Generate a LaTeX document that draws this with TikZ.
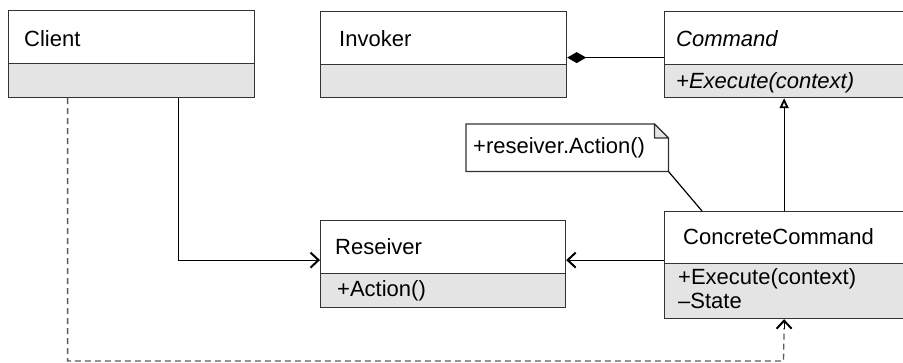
\documentclass[tikz,border=0pt]{standalone}
\usepackage{fontspec}
\setmainfont{Liberation Sans}
\usetikzlibrary{arrows.meta,calc}
\definecolor{edge}{HTML}{333333}
\definecolor{comp}{HTML}{E4E4E4}
\definecolor{dash}{HTML}{5A5A5A}
\tikzset{
  box/.style={draw=edge,line width=1.2pt,fill=white,inner sep=0pt,anchor=north west},
  part/.style={draw=edge,line width=1.2pt,fill=comp,inner sep=0pt,anchor=south west},
  txt/.style={inner sep=0pt,anchor=base west,font=\fontsize{22}{24}\selectfont},
  conn/.style={draw=black,line width=1.2pt},
  openarr/.style={-{Straight Barb[length=8pt,width=15pt,line width=2pt]}},
  inherit/.style={-{Triangle[open,length=10pt,width=9pt,line width=1.8pt]}},
  compo/.style={-{Diamond[length=19pt,width=11pt,fill=black]}},
  dep/.style={draw=dash,line width=1.3pt,dash pattern=on 6pt off 4pt}
}
\begin{document}
\begin{tikzpicture}[x=1pt,y=-1pt]
\useasboundingbox (0,0) rectangle (903,362);
% Client
\node[box,minimum width=246pt,minimum height=87pt] (client) at (8,10) {};
\node[part,minimum width=246pt,minimum height=34pt] (clienta) at (client.south west) {};
\node[txt] (clientt) at (24,46) {Client};
% Invoker
\node[box,minimum width=246pt,minimum height=86pt] (inv) at (320,11) {};
\node[part,minimum width=246pt,minimum height=33pt] (inva) at (inv.south west) {};
\node[txt] (invt) at (339,46) {Invoker};
% Command
\node[box,minimum width=239pt,minimum height=86pt] (cmd) at (664,11) {};
\node[part,minimum width=239pt,minimum height=33pt] (cmda) at (cmd.south west) {};
\node[txt] (cmdt) at (676,46) {\itshape Command};
\node[txt] (cmdop) at (676,88) {\itshape +Execute(context)};
% Reseiver
\node[box,minimum width=245pt,minimum height=87pt] (res) at (320,220) {};
\node[part,minimum width=245pt,minimum height=34pt] (resa) at (res.south west) {};
\node[txt] (rest) at (335,254) {Reseiver};
\node[txt] (resop) at (337,296) {+Action()};
% ConcreteCommand
\node[box,minimum width=239pt,minimum height=107pt] (cc) at (664,211) {};
\node[part,minimum width=239pt,minimum height=55pt] (cca) at (cc.south west) {};
\node[txt] (cct) at (683,244) {ConcreteCommand};
\node[txt] (ccop) at (678,284) {+Execute(context)};
\node[txt] (ccst) at (678,308) {\textendash State};
% Note
\node[inner sep=0pt,anchor=north west,minimum width=202pt,minimum height=47pt] (note) at (466,124) {};
\draw[draw=edge,line width=1.2pt,fill=white]
  (note.north west) -- ([xshift=-14pt]note.north east) -- ([yshift=-14pt]note.north east)
  -- (note.south east) -- (note.south west) -- cycle;
\draw[draw=edge,line width=1.2pt,fill=comp,line join=round]
  ([xshift=-14pt]note.north east) -- ([xshift=-14pt,yshift=-14pt]note.north east)
  -- ([yshift=-14pt]note.north east) -- cycle;
\node[txt] (notet) at (473,153) {+reseiver.Action()};
% Connectors
\draw[conn,compo] ([yshift=-3pt]cmd.west) -- ([yshift=-3pt]inv.east);
\draw[conn,inherit] (cc.north) -- (cc.north |- cmd.south);
\draw[conn] (note.south east) -- ([xshift=38pt]cc.north west);
\draw[conn,openarr] ([yshift=5pt]cc.west) -- ([yshift=5pt]cc.west -| res.east);
\draw[conn,openarr] ([xshift=47pt]client.south) |- ([yshift=4pt]res.west);
\coordinate (dbot) at (783.5,361);
\draw[dep] ([xshift=-64pt]client.south) |- (dbot) -- ([yshift=-9pt]cc.south);
\draw[conn,openarr] ([yshift=-10pt]cc.south) -- (cc.south);
\end{tikzpicture}
\end{document}
